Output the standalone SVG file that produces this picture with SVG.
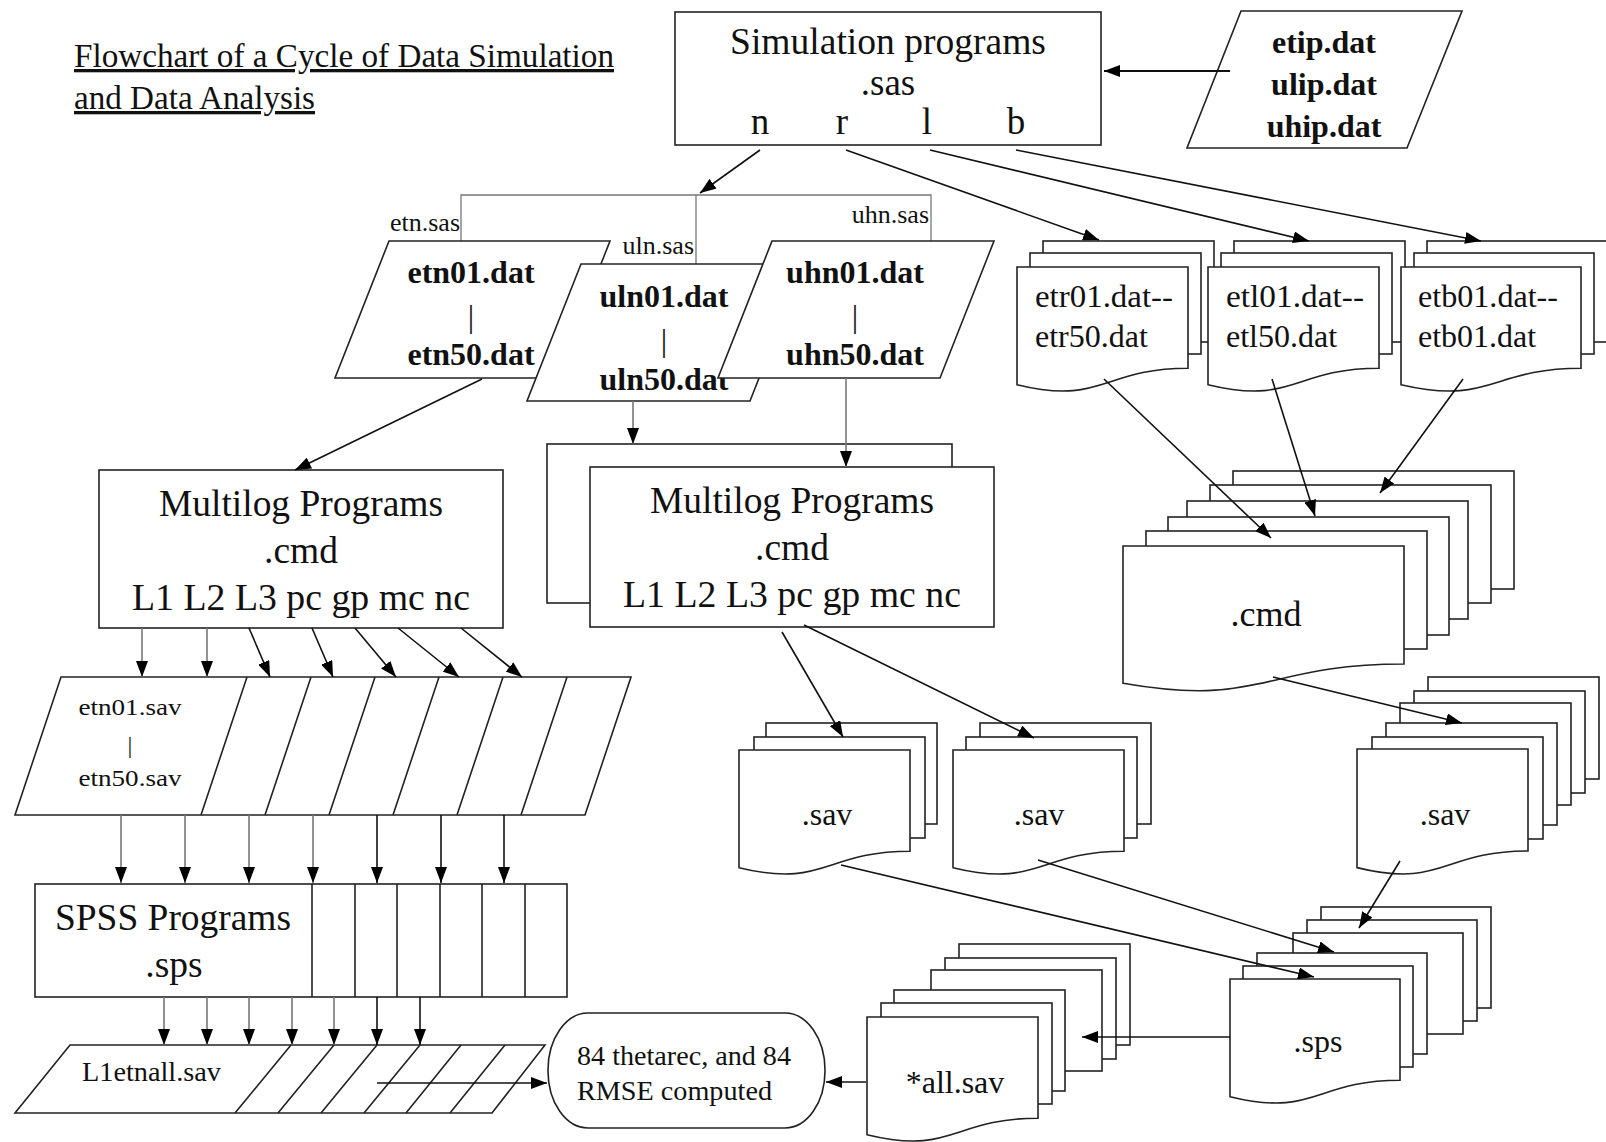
<svg xmlns="http://www.w3.org/2000/svg" width="1606" height="1142" viewBox="0 0 1606 1142">
<defs>
<style>
.s{fill:#fff;stroke:#222;stroke-width:1.6}
.n{fill:none;stroke:#222;stroke-width:1.6}
.c{fill:none;stroke:#111;stroke-width:1.6;marker-end:url(#ah)}
.l{fill:none;stroke:#777;stroke-width:1.3}
.g{stroke:#777}
.t{font-family:"Liberation Serif","Times New Roman",serif;fill:#111}
.b{font-weight:bold}
.m{text-anchor:middle}
.e{text-anchor:end}
</style>
<marker id="ah" viewBox="0 0 16 12" refX="16" refY="6" markerWidth="16" markerHeight="12" markerUnits="userSpaceOnUse" orient="auto"><path d="M0,0 L16,6 L0,12 z" fill="#000"/></marker>
</defs>
<rect width="1606" height="1142" fill="#fff"/>

<g id="title">
<text class="t" x="74" y="67" font-size="33" text-decoration="underline" textLength="540" lengthAdjust="spacingAndGlyphs">Flowchart of a Cycle of Data Simulation</text>
<text class="t" x="74" y="109" font-size="33" text-decoration="underline" textLength="241" lengthAdjust="spacingAndGlyphs">and Data Analysis</text>
</g>

<g id="sim-programs">
<rect class="s" x="675" y="12" width="426" height="133"/>
<text class="t m" x="888" y="54" font-size="37" textLength="316" lengthAdjust="spacingAndGlyphs">Simulation programs</text>
<text class="t m" x="888" y="95" font-size="37">.sas</text>
<text class="t m" x="760" y="134" font-size="37">n</text>
<text class="t m" x="842" y="134" font-size="37">r</text>
<text class="t m" x="927" y="134" font-size="37">l</text>
<text class="t m" x="1016" y="134" font-size="37">b</text>
</g>

<g id="ip-files">
<polygon class="s" points="1241,11 1462,11 1407,148 1187,148"/>
<text class="t b m" x="1324" y="53" font-size="32">etip.dat</text>
<text class="t b m" x="1324" y="95" font-size="32">ulip.dat</text>
<text class="t b m" x="1324" y="137" font-size="32">uhip.dat</text>
</g>

<g id="n-bracket">
<polyline class="l" points="461,241 461,195 931,195 931,241"/>
<line class="l" x1="696" y1="195" x2="696" y2="264"/>
<text class="t e" x="460" y="231" font-size="26">etn.sas</text>
<text class="t e" x="694" y="254" font-size="26">uln.sas</text>
<text class="t e" x="929" y="223" font-size="26">uhn.sas</text>
</g>

<g id="etn-dat">
<polygon class="s" points="389,241 610,241 556,378 335,378"/>
<text class="t b m" x="471" y="283" font-size="32">etn01.dat</text>
<text class="t m" x="471" y="327" font-size="32">|</text>
<text class="t b m" x="471" y="365" font-size="32">etn50.dat</text>
</g>
<g id="uln-dat">
<polygon class="s" points="581,264 804,264 750,401 527,401"/>
<text class="t b m" x="664" y="307" font-size="32">uln01.dat</text>
<text class="t m" x="664" y="351" font-size="32">|</text>
<text class="t b m" x="664" y="390" font-size="32">uln50.dat</text>
</g>
<g id="uhn-dat">
<polygon class="s" points="772,241 994,241 940,378 718,378"/>
<text class="t b m" x="855" y="283" font-size="32">uhn01.dat</text>
<text class="t m" x="855" y="327" font-size="32">|</text>
<text class="t b m" x="855" y="365" font-size="32">uhn50.dat</text>
</g>

<g id="etr-dat">
<rect class="s" x="1043" y="241" width="171" height="101"/>
<rect class="s" x="1030" y="253" width="171" height="101"/>
<path class="s" d="M1017,384.7 V267 H1188 V368.2 C1102.5,368.2 1102.5,405.6 1017,384.7 Z"/>
<text class="t" x="1035" y="307" font-size="32" textLength="138" lengthAdjust="spacingAndGlyphs">etr01.dat--</text>
<text class="t" x="1035" y="347" font-size="32">etr50.dat</text>
</g>
<g id="etl-dat">
<rect class="s" x="1234" y="241" width="171" height="101"/>
<rect class="s" x="1221" y="253" width="171" height="101"/>
<path class="s" d="M1208,384.7 V267 H1379 V368.2 C1293.5,368.2 1293.5,405.6 1208,384.7 Z"/>
<text class="t" x="1226" y="307" font-size="32" textLength="138" lengthAdjust="spacingAndGlyphs">etl01.dat--</text>
<text class="t" x="1226" y="347" font-size="32">etl50.dat</text>
</g>
<g id="etb-dat">
<rect class="s" x="1427" y="241" width="180" height="101"/>
<rect class="s" x="1414" y="253" width="180" height="101"/>
<path class="s" d="M1401,384.7 V267 H1581 V368.2 C1491,368.2 1491,405.6 1401,384.7 Z"/>
<text class="t" x="1418" y="307" font-size="32" textLength="140" lengthAdjust="spacingAndGlyphs">etb01.dat--</text>
<text class="t" x="1418" y="347" font-size="32">etb01.dat</text>
</g>

<g id="multilog-left">
<rect class="s" x="99" y="470" width="404" height="158"/>
<text class="t m" x="301" y="516" font-size="37.5" textLength="284" lengthAdjust="spacingAndGlyphs">Multilog Programs</text>
<text class="t m" x="301" y="563" font-size="37.5">.cmd</text>
<text class="t m" x="301" y="610" font-size="37.5" textLength="338" lengthAdjust="spacingAndGlyphs">L1 L2 L3 pc gp mc nc</text>
</g>

<g id="multilog-mid">
<rect class="s" x="547" y="444" width="405" height="159"/>
<rect class="s" x="590" y="467" width="404" height="160"/>
<text class="t m" x="792" y="513" font-size="37.5" textLength="284" lengthAdjust="spacingAndGlyphs">Multilog Programs</text>
<text class="t m" x="792" y="560" font-size="37.5">.cmd</text>
<text class="t m" x="792" y="607" font-size="37.5" textLength="338" lengthAdjust="spacingAndGlyphs">L1 L2 L3 pc gp mc nc</text>
</g>

<g id="cmd-stack">
<rect class="s" x="1233" y="471" width="281" height="118"/>
<rect class="s" x="1210" y="485" width="281" height="118"/>
<rect class="s" x="1187" y="501" width="281" height="118"/>
<rect class="s" x="1168" y="517" width="281" height="118"/>
<rect class="s" x="1146" y="531" width="281" height="118"/>
<path class="s" d="M1123,683.3 V546 H1404 V664 C1263.5,664 1263.5,707.7 1123,683.3 Z"/>
<text class="t m" x="1266" y="626" font-size="36">.cmd</text>
</g>

<g id="etn-sav">
<polygon class="s" points="61,677 631,677 585,815 15,815"/>
<path class="n" d="M201,815 L247,677 M265,815 L311,677 M329,815 L375,677 M393,815 L439,677 M457,815 L503,677 M521,815 L567,677"/>
<text class="t m" x="130" y="715" font-size="24" textLength="103" lengthAdjust="spacingAndGlyphs">etn01.sav</text>
<text class="t m" x="130" y="753" font-size="24">|</text>
<text class="t m" x="130" y="786" font-size="24" textLength="103" lengthAdjust="spacingAndGlyphs">etn50.sav</text>
</g>

<g id="sav-a">
<rect class="s" x="766" y="723" width="171" height="101"/>
<rect class="s" x="754" y="737" width="171" height="101"/>
<path class="s" d="M739,867.7 V750 H910 V851.2 C824.5,851.2 824.5,888.6 739,867.7 Z"/>
<text class="t m" x="827" y="825" font-size="32">.sav</text>
</g>
<g id="sav-b">
<rect class="s" x="980" y="723" width="171" height="101"/>
<rect class="s" x="966" y="737" width="171" height="101"/>
<path class="s" d="M953,867.7 V750 H1124 V851.2 C1038.5,851.2 1038.5,888.6 953,867.7 Z"/>
<text class="t m" x="1039" y="825" font-size="32">.sav</text>
</g>

<g id="sav-right">
<rect class="s" x="1428" y="677" width="171" height="102"/>
<rect class="s" x="1414" y="691" width="171" height="102"/>
<rect class="s" x="1400" y="703" width="171" height="102"/>
<rect class="s" x="1386" y="723" width="171" height="102"/>
<rect class="s" x="1372" y="737" width="171" height="102"/>
<path class="s" d="M1357,867.6 V749 H1528 V851 C1442.5,851 1442.5,888.7 1357,867.6 Z"/>
<text class="t m" x="1445" y="825" font-size="32">.sav</text>
</g>

<g id="spss-programs">
<rect class="s" x="35" y="884" width="532" height="113"/>
<path class="n" d="M312,884 V997 M355,884 V997 M397,884 V997 M440,884 V997 M482,884 V997 M525,884 V997"/>
<text class="t m" x="173" y="930" font-size="37.5" textLength="236" lengthAdjust="spacingAndGlyphs">SPSS Programs</text>
<text class="t m" x="174" y="977" font-size="37.5">.sps</text>
</g>

<g id="l1etnall">
<polygon class="s" points="70,1045 545,1045 492,1113 15,1113"/>
<path class="n" d="M235,1113 L291,1045 M278,1113 L334,1045 M321,1113 L377,1045 M364,1113 L420,1045 M406,1113 L461,1045 M450,1113 L505,1045"/>
<text class="t" x="82" y="1081" font-size="27" textLength="139" lengthAdjust="spacingAndGlyphs">L1etnall.sav</text>
</g>

<g id="result">
<rect class="s" x="548" y="1013" width="277" height="115" rx="40" ry="57"/>
<text class="t" x="577" y="1065" font-size="28" textLength="214" lengthAdjust="spacingAndGlyphs">84 thetarec, and 84</text>
<text class="t" x="577" y="1100" font-size="28" textLength="195" lengthAdjust="spacingAndGlyphs">RMSE computed</text>
</g>

<g id="sps-stack">
<rect class="s" x="1321" y="907" width="170" height="101"/>
<rect class="s" x="1307" y="920" width="170" height="101"/>
<rect class="s" x="1293" y="933" width="170" height="101"/>
<rect class="s" x="1257" y="953" width="170" height="101"/>
<rect class="s" x="1243" y="966" width="170" height="101"/>
<path class="s" d="M1230,1096.7 V979 H1400 V1080.2 C1315,1080.2 1315,1117.6 1230,1096.7 Z"/>
<text class="t m" x="1318" y="1052" font-size="32">.sps</text>
</g>

<g id="all-sav">
<rect class="s" x="959" y="944" width="171" height="101"/>
<rect class="s" x="945" y="958" width="171" height="101"/>
<rect class="s" x="931" y="970" width="171" height="101"/>
<rect class="s" x="894" y="990" width="171" height="101"/>
<rect class="s" x="881" y="1003" width="171" height="101"/>
<path class="s" d="M867,1134.7 V1017 H1038 V1118.2 C952.5,1118.2 952.5,1155.6 867,1134.7 Z"/>
<text class="t m" x="955" y="1093" font-size="32">*all.sav</text>
</g>

<g id="connectors">
<line class="c" x1="1230" y1="71" x2="1104" y2="71" style="stroke-width:2"/>
<line class="c" x1="760" y1="150" x2="700" y2="193"/>
<line class="c" x1="846" y1="150" x2="1099" y2="240"/>
<line class="c" x1="930" y1="150" x2="1309" y2="241"/>
<line class="c" x1="1016" y1="150" x2="1481" y2="241"/>
<line class="c" x1="482" y1="379" x2="295" y2="470"/>
<line class="c g" x1="633" y1="401" x2="633" y2="444"/>
<line class="c g" x1="846" y1="378" x2="846" y2="467"/>
<line class="c" x1="1104" y1="379" x2="1271" y2="538"/>
<line class="c" x1="1272" y1="379" x2="1315" y2="516"/>
<line class="c" x1="1463" y1="379" x2="1380" y2="493"/>
<line class="c" x1="782" y1="632" x2="843" y2="737"/>
<line class="c" x1="804" y1="625" x2="1034" y2="738"/>
<line class="c" x1="1273" y1="677" x2="1462" y2="723"/>
<line class="c" x1="1400" y1="861" x2="1359" y2="928"/>
<line class="c" x1="841" y1="865" x2="1314" y2="977"/>
<line class="c" x1="1038" y1="860" x2="1334" y2="952"/>
<line class="c" x1="1230" y1="1037" x2="1082" y2="1037"/>
<line class="c" x1="866" y1="1082" x2="826" y2="1082"/>
<line class="c" x1="377" y1="1083" x2="547" y2="1083"/>
<line class="c g" x1="142" y1="628" x2="142" y2="677"/>
<line class="c g" x1="207" y1="628" x2="207" y2="677"/>
<line class="c" x1="249" y1="628" x2="270" y2="677"/>
<line class="c" x1="312" y1="628" x2="333" y2="677"/>
<line class="c" x1="355" y1="628" x2="396" y2="677"/>
<line class="c" x1="398" y1="628" x2="459" y2="677"/>
<line class="c" x1="461" y1="628" x2="522" y2="677"/>
<line class="c g" x1="121" y1="815" x2="121" y2="883"/>
<line class="c g" x1="185" y1="815" x2="185" y2="883"/>
<line class="c g" x1="249" y1="815" x2="249" y2="883"/>
<line class="c g" x1="313" y1="815" x2="313" y2="883"/>
<line class="c" x1="377" y1="815" x2="377" y2="883"/>
<line class="c" x1="441" y1="815" x2="441" y2="883"/>
<line class="c" x1="504" y1="815" x2="504" y2="883"/>
<line class="c g" x1="164" y1="997" x2="164" y2="1045"/>
<line class="c g" x1="207" y1="997" x2="207" y2="1045"/>
<line class="c g" x1="249" y1="997" x2="249" y2="1045"/>
<line class="c g" x1="292" y1="997" x2="292" y2="1045"/>
<line class="c g" x1="334" y1="997" x2="334" y2="1045"/>
<line class="c" x1="377" y1="997" x2="377" y2="1045"/>
<line class="c" x1="420" y1="997" x2="420" y2="1045"/>
</g>
</svg>
